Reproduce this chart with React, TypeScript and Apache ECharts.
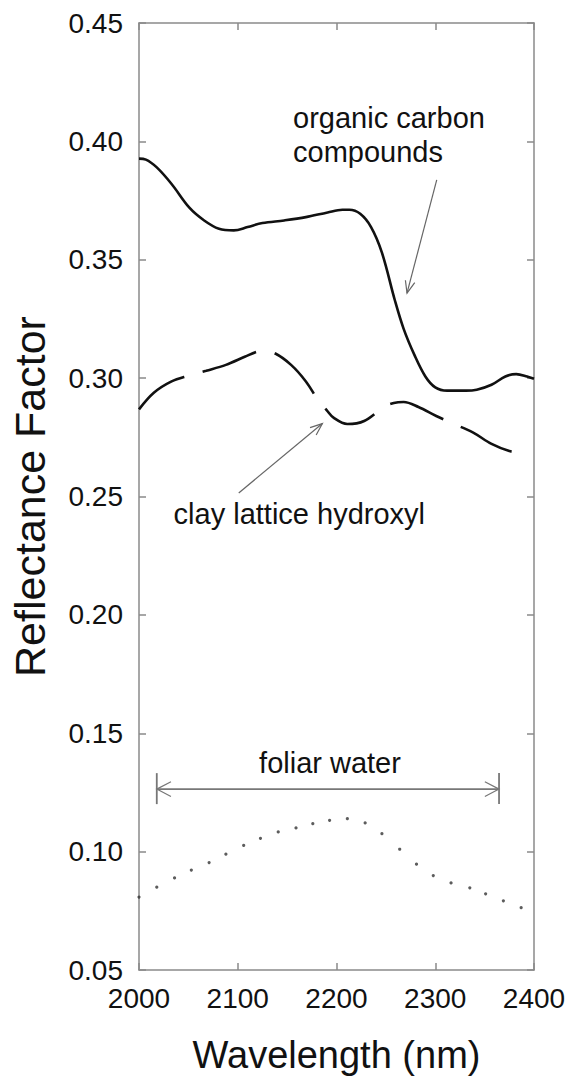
import React, { useEffect, useRef } from "react";
import * as echarts from "echarts";

const xTicks = [2000, 2100, 2200, 2300, 2400];

const solidX = [2000, 2007, 2018, 2033, 2051, 2066, 2081, 2096, 2110, 2125, 2147, 2169, 2191, 2206, 2213, 2224, 2235, 2246, 2259, 2268, 2279, 2290, 2300, 2312, 2331, 2342, 2357, 2371, 2382, 2393, 2400];
const solidY = [0.3927, 0.3923, 0.389, 0.382, 0.372, 0.3666, 0.3631, 0.3624, 0.3638, 0.3655, 0.3666, 0.368, 0.370, 0.3711, 0.3711, 0.3694, 0.3638, 0.3530, 0.3330, 0.3208, 0.3097, 0.3007, 0.2961, 0.2947, 0.2947, 0.2951, 0.2972, 0.3007, 0.3017, 0.3007, 0.2997];

const dashX = [2000, 2015, 2033, 2050, 2068, 2088, 2107, 2119, 2126, 2138, 2154, 2169, 2182, 2190, 2197, 2211, 2228, 2248, 2258, 2268, 2283, 2301, 2318, 2338, 2357, 2375, 2388];
const dashY = [0.2868, 0.2938, 0.2986, 0.301, 0.3031, 0.3056, 0.309, 0.3111, 0.3115, 0.3104, 0.3056, 0.2986, 0.2903, 0.2865, 0.2833, 0.2806, 0.2819, 0.2878, 0.2895, 0.2899, 0.2878, 0.284, 0.2808, 0.2771, 0.2722, 0.2692, 0.2683];

const dotX = [2000, 2018, 2036, 2053, 2071, 2088, 2106, 2123, 2141, 2159, 2176, 2193, 2211, 2229, 2246, 2264, 2281, 2298, 2316, 2335, 2351, 2369, 2387];
const dotY = [0.0808, 0.085, 0.0889, 0.0922, 0.0954, 0.0989, 0.1026, 0.1056, 0.1083, 0.110, 0.1118, 0.1132, 0.1139, 0.1121, 0.1076, 0.101, 0.0947, 0.0899, 0.0868, 0.0847, 0.0822, 0.0792, 0.0763];

// annotations (data coordinates)
const organicLabel = { text: "organic carbon\ncompounds", x: 2156, y: 0.4025 };
const organicArrow = { from: [2301.5, 0.3837], to: [2271.4, 0.3359] };
const clayLabel = { text: "clay lattice hydroxyl", x: 2035, y: 0.2424 };
const clayArrow = { from: [2101, 0.2515], to: [2185.7, 0.2808] };
const foliarLabel = { text: "foliar water", x: 2193.4, y: 0.1374 };
const foliarRange = { from: 2018, to: 2364.6, y: 0.1264 };

const FONT = "'Liberation Sans', Arial, Helvetica, sans-serif";
const AXIS_COLOR = "#8a8a8a";

export default function App() {
  const ref = useRef<HTMLDivElement>(null);
  useEffect(() => {
    document.body.style.margin = "0";
    const chart = echarts.init(ref.current!, null, { renderer: "svg" });
    const axisCommon = {
      type: "value" as const,
      axisLine: { show: true, lineStyle: { color: AXIS_COLOR, width: 1.5 } },
      axisTick: { show: true, inside: true, length: 7, lineStyle: { color: AXIS_COLOR, width: 1.5 } },
      splitLine: { show: false },
    };
    chart.setOption({
      animation: false,
      backgroundColor: "#fff",
      grid: { left: 139, right: 37, top: 23, bottom: 111, containLabel: false },
      xAxis: [
        {
          ...axisCommon,
          min: xTicks[0],
          max: xTicks[xTicks.length - 1],
          interval: 100,
          position: "bottom",
          axisLabel: {
            fontSize: 28,
            color: "#111",
            fontFamily: FONT,
            margin: 14,
            formatter: (v: number) => String(v),
          },
          name: "Wavelength (nm)",
          nameLocation: "middle",
          nameGap: 66,
          nameTextStyle: { fontSize: 38, color: "#111", fontFamily: FONT },
        },
        {
          ...axisCommon,
          min: xTicks[0],
          max: xTicks[xTicks.length - 1],
          interval: 100,
          position: "top",
          axisLabel: { show: false },
        },
      ],
      yAxis: [
        {
          ...axisCommon,
          min: 0.05,
          max: 0.45,
          interval: 0.05,
          position: "left",
          axisLabel: {
            fontSize: 28,
            color: "#111",
            fontFamily: FONT,
            margin: 16,
            formatter: (v: number) => v.toFixed(2),
          },
          name: "Reflectance Factor",
          nameLocation: "middle",
          nameGap: 88,
          nameRotate: 90,
          nameTextStyle: { fontSize: 43, color: "#111", fontFamily: FONT },
        },
        {
          ...axisCommon,
          min: 0.05,
          max: 0.45,
          interval: 0.05,
          position: "right",
          axisLabel: { show: false },
        },
      ],
      series: [
        {
          type: "line",
          data: solidX.map((x, i) => [x, solidY[i]]),
          smooth: 0.35,
          showSymbol: false,
          lineStyle: { color: "#111", width: 2.6 },
          z: 3,
        },
        {
          type: "line",
          data: dashX.map((x, i) => [x, dashY[i]]),
          smooth: 0.35,
          showSymbol: false,
          lineStyle: { color: "#111", width: 2.6, type: [57, 19] },
          z: 3,
        },
        {
          type: "scatter",
          data: dotX.map((x, i) => [x, dotY[i]]),
          symbol: "circle",
          symbolSize: 3.2,
          itemStyle: { color: "#333" },
          z: 3,
        },
      ],
    });

    const px = (x: number, y: number) =>
      chart.convertToPixel({ seriesIndex: 0 }, [x, y]) as number[];

    const arrowHead = (a: number[], b: number[], len: number, ang: number) => {
      const dx = b[0] - a[0];
      const dy = b[1] - a[1];
      const d = Math.hypot(dx, dy);
      const ux = dx / d;
      const uy = dy / d;
      const rot = (t: number) => [
        b[0] - len * (ux * Math.cos(t) - uy * Math.sin(t)),
        b[1] - len * (ux * Math.sin(t) + uy * Math.cos(t)),
      ];
      return [rot(ang), b, rot(-ang)];
    };

    const thin = { stroke: "#666", lineWidth: 1.2, fill: null };
    const graphics: any[] = [];

    const textEl = (lab: { text: string; x: number; y: number }, align: string) => {
      const p = px(lab.x, lab.y);
      return {
        type: "text",
        x: p[0],
        y: p[1],
        style: {
          text: lab.text,
          fontSize: 29,
          fontFamily: FONT,
          fill: "#111",
          align,
          verticalAlign: "middle",
          lineHeight: 34,
        },
      };
    };

    graphics.push(textEl(organicLabel, "left"));
    graphics.push(textEl(clayLabel, "left"));
    graphics.push(textEl(foliarLabel, "center"));

    for (const arr of [organicArrow, clayArrow]) {
      const a = px(arr.from[0], arr.from[1]);
      const b = px(arr.to[0], arr.to[1]);
      graphics.push({ type: "line", shape: { x1: a[0], y1: a[1], x2: b[0], y2: b[1] }, style: thin });
      graphics.push({ type: "polyline", shape: { points: arrowHead(a, b, 13, 0.38) }, style: thin });
    }

    const l = px(foliarRange.from, foliarRange.y);
    const r = px(foliarRange.to, foliarRange.y);
    const rangeStyle = { stroke: "#777", lineWidth: 1.8, fill: null };
    graphics.push({ type: "line", shape: { x1: l[0], y1: l[1], x2: r[0], y2: r[1] }, style: rangeStyle });
    graphics.push({ type: "line", shape: { x1: l[0], y1: l[1] - 16, x2: l[0], y2: l[1] + 15 }, style: rangeStyle });
    graphics.push({ type: "line", shape: { x1: r[0], y1: r[1] - 16, x2: r[0], y2: r[1] + 15 }, style: rangeStyle });
    graphics.push({ type: "polyline", shape: { points: arrowHead(r, l, 16, 0.48) }, style: { stroke: "#777", lineWidth: 1.2, fill: null } });
    graphics.push({ type: "polyline", shape: { points: arrowHead(l, r, 16, 0.48) }, style: { stroke: "#777", lineWidth: 1.2, fill: null } });

    chart.setOption({ graphic: graphics });

    return () => chart.dispose();
  }, []);
  return <div ref={ref} style={{ width: 571, height: 1081 }} />;
}
